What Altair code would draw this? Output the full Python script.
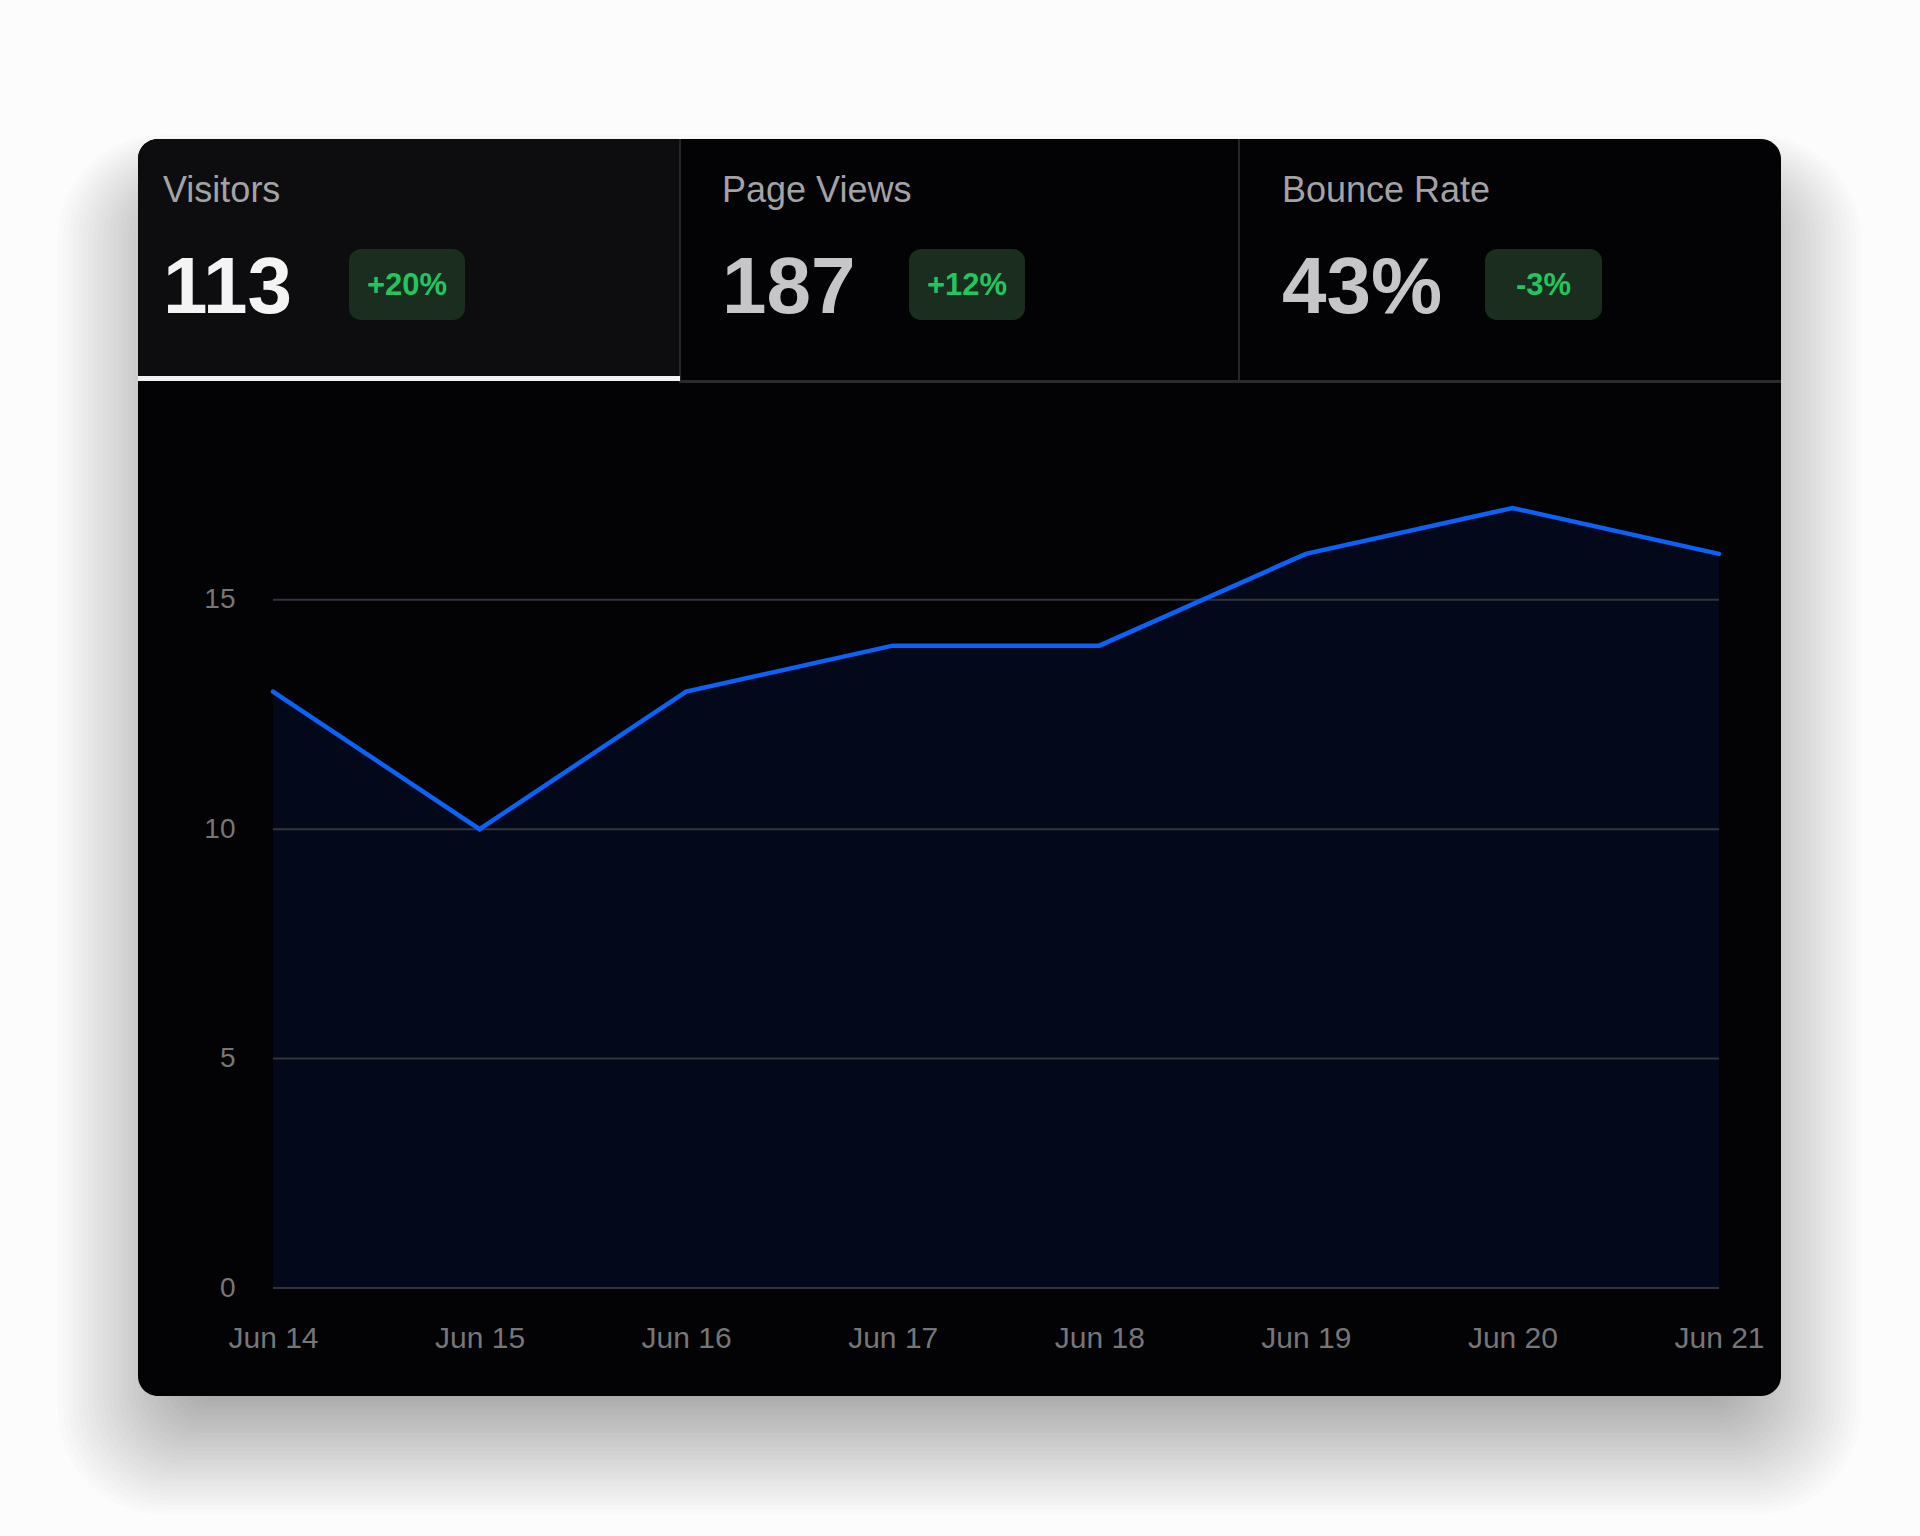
import altair as alt
import pandas as pd

# ---- data ----
dates = ["Jun 14", "Jun 15", "Jun 16", "Jun 17", "Jun 18", "Jun 19", "Jun 20", "Jun 21"]
visitors = [13, 10, 13, 14, 14, 16, 17, 16]
y_ticks = [0, 5, 10, 15]
tab_labels = ["Visitors", "Page Views", "Bounce Rate"]
tab_values = ["113", "187", "43%"]
tab_changes = ["+20%", "+12%", "-3%"]

df = pd.DataFrame({"date": dates, "visitors": visitors})
grid_df = pd.DataFrame({"visitors": y_ticks})

# ---- layout (pixels, full canvas) ----
W, H = 1920, 1536
PL, PT = 273, 508          # plot origin
PW, PH = 1446, 780         # plot size
FONT = "Liberation Sans"

def rx(X):
    return X - PL

def ry(Y):
    return Y - PT

dummy = alt.Data(values=[{"d": 0}])

def rect(x1, y1, x2, y2, color, opacity=1.0, **kw):
    return alt.Chart(dummy).mark_rect(color=color, opacity=opacity, **kw).encode(
        x=alt.value(rx(x1)), x2=alt.value(rx(x2)),
        y=alt.value(ry(y1)), y2=alt.value(ry(y2)),
    )

def text(t, X, Y, size, color, weight="normal", align="left", baseline="alphabetic"):
    return alt.Chart(dummy).mark_text(
        text=t, font=FONT, fontSize=size, color=color, fontWeight=weight,
        align=align, baseline=baseline,
    ).encode(x=alt.value(rx(X)), y=alt.value(ry(Y)))

CX1, CY1, CX2, CY2 = 138, 139, 1781, 1396
layers = []

# soft drop shadow
for k in range(1, 29):
    layers.append(rect(CX1 + 60 - 5 * k, CY1 + 80 - 3 * k,
                       CX2 - 60 + 5 * k, CY2 - 8 + 4.5 * k,
                       "#000000", 0.011, cornerRadius=20 + 3 * k))

# card
layers.append(rect(CX1, CY1, CX2, CY2, "#030204", cornerRadius=20))
# active tab background
layers.append(rect(CX1, CY1, 679, 381, "#0d0c0f", cornerRadiusTopLeft=20))
# dividers
layers.append(rect(679, CY1, 681, 381, "#262628"))
layers.append(rect(1238, CY1, 1240, 381, "#262628"))
# header separator
layers.append(rect(679, 380, CX2, 383, "#2a2a2c"))
# active underline
layers.append(rect(CX1, 376, 680, 381, "#f2f2f2"))

label_x = [163, 722, 1282]
badge_x = [(349, 465), (909, 1025), (1485, 1602)]
value_colors = ["#f4f4f5", "#c6c6c8", "#c6c6c8"]
for i in range(3):
    layers.append(text(tab_labels[i], label_x[i], 202, 36, "#a3a3a6"))
    layers.append(text(tab_values[i], label_x[i], 313, 80, value_colors[i], weight="bold"))
    bx1, bx2 = badge_x[i]
    layers.append(rect(bx1, 249, bx2, 320, "#1b2d1e", cornerRadius=12))
    layers.append(text(tab_changes[i], (bx1 + bx2) / 2, 286, 31, "#22c55e",
                       weight="bold", align="center", baseline="middle"))

# ---- the chart itself ----
x_axis = alt.Axis(labelAngle=0, labelOverlap=False, labelFlush=False,
                  labelBound=False, labelPadding=35, labelFontSize=30,
                  labelFont=FONT, labelColor="#767678",
                  domain=False, ticks=False, grid=False, zindex=1)
y_axis = alt.Axis(values=y_ticks, labelPadding=38, labelFontSize=28,
                  labelFont=FONT, labelColor="#767678",
                  domain=False, ticks=False, grid=False, zindex=1)
xscale = alt.Scale(type="point", padding=0)
yscale = alt.Scale(domain=[0, 17], nice=False, zero=True)

xenc = alt.X("date:O", sort=dates, title=None, scale=xscale, axis=x_axis)
yenc = alt.Y("visitors:Q", scale=yscale, title=None, axis=y_axis)

area = alt.Chart(df).mark_area(color="#03091a").encode(x=xenc, y=yenc)
grid = alt.Chart(grid_df).mark_rule(color="#30353e", strokeWidth=2).encode(
    y=yenc, x=alt.value(0), x2=alt.value(PW),
)
line = alt.Chart(df).mark_line(color="#0c62f7", strokeWidth=4.5, strokeCap="round").encode(
    x=xenc, y=yenc,
)

layers += [area, grid, line]

chart = alt.layer(*layers).properties(
    width=PW, height=PH,
    padding={"left": PL, "top": PT, "right": W - PL - PW, "bottom": H - PT - PH},
    autosize="none",
    background="#fcfcfc",
).configure_view(strokeWidth=0)

chart.save("out.html", embed_options={"renderer": "svg", "actions": False})
